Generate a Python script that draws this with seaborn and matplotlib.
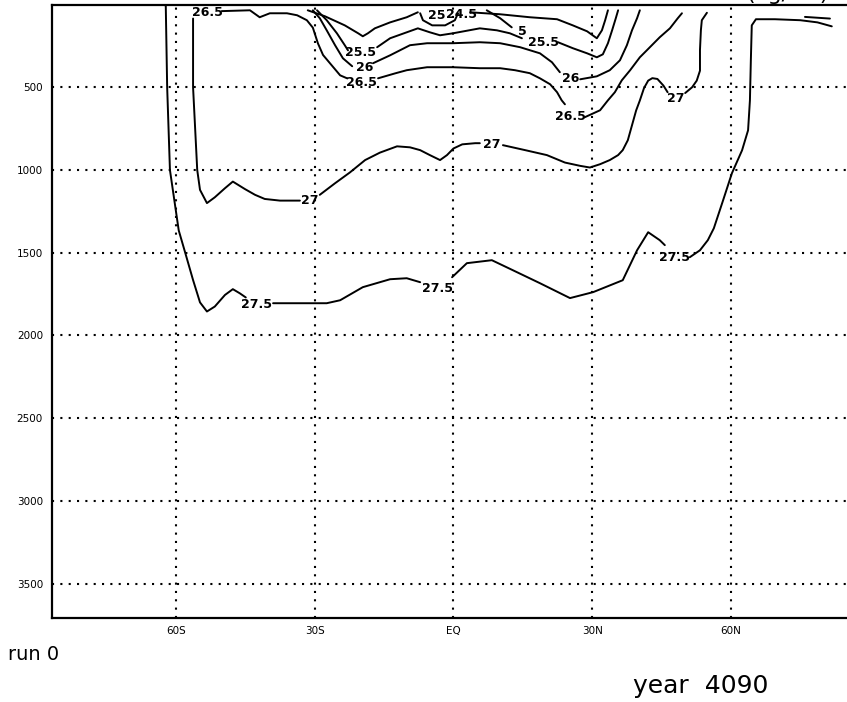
import matplotlib
matplotlib.use("Agg")
import matplotlib.pyplot as plt
import numpy as np
import pandas as pd
import seaborn as sns

# ---------------- data (latitude in degrees, depth in m) ----------------
# 27.5 contour
s275a_lat = [-62.4, -62.2, -61.9, -61.3, -59.4, -58.1, -56.3, -54.8, -53.3, -51.6, -49.4, -47.7, -46.2, -44.9]
s275a_dep = [0, 10, 500, 1000, 1365, 1490, 1665, 1800, 1855, 1825, 1755, 1720, 1745, 1770]
s275b_lat = [-39.0, -33.2, -27.4, -24.5, -19.6, -13.7, -10.1, -7.2]
s275b_dep = [1805, 1805, 1805, 1787, 1708, 1660, 1654, 1678]
s275c_lat = [-0.3, 2.9, 8.3, 12.8, 18.7, 25.2, 30.2, 36.6, 39.7, 42.1, 44.6, 45.7]
s275c_dep = [1648, 1563, 1545, 1605, 1684, 1774, 1738, 1666, 1485, 1376, 1424, 1454]
s275d_lat = [51.1, 53.3, 55.0, 56.3, 58.3, 60.2, 62.4, 63.7, 64.1, 64.3, 64.5, 65.4, 69.5, 75.0, 78.7, 81.8]
s275d_dep = [1527, 1485, 1424, 1352, 1183, 1020, 881, 760, 579, 337, 126, 89, 89, 95, 108, 132]

# 27.0 contour
s27a_lat = [-56.3, -56.3, -55.4, -54.8, -53.3, -51.6, -49.4, -47.7, -45.1, -42.9, -40.8, -37.5, -33.2]
s27a_dep = [85, 500, 1000, 1120, 1200, 1165, 1110, 1070, 1115, 1150, 1175, 1185, 1185]
s27b_lat = [-28.9, -25.6, -22.4, -19.1, -15.9, -12.2, -9.4, -7.2, -5.1, -2.9, -1.4, 0.0, 1.9, 4.7, 5.7]
s27b_dep = [1150, 1080, 1015, 940, 895, 857, 863, 880, 910, 940, 910, 870, 845, 838, 838]
s27c_lat = [10.7, 15.5, 20.2, 24.1, 27.4, 29.5, 31.7, 33.8, 35.6, 36.6, 37.7, 38.6, 39.5, 40.3, 41.2, 42.1, 43.0, 44.1, 45.4, 46.3]
s27c_dep = [850, 880, 910, 955, 975, 985, 965, 940, 910, 880, 820, 730, 640, 580, 505, 460, 445, 450, 490, 530]
s27d_lat = [50.1, 51.6, 52.6, 53.3, 53.3, 53.5, 53.7, 54.8]
s27d_dep = [535, 500, 460, 400, 275, 155, 95, 50]
s27e_lat = [76.0, 81.4]
s27e_dep = [75, 85]

# 26.5 contour
s265a_lat = [-50.1, -44.0, -43.4, -41.9, -39.7, -36.0, -33.8, -31.7, -30.4, -29.3, -28.2, -26.7, -24.5, -23.0]
s265a_dep = [40, 35, 47, 77, 53, 53, 65, 95, 140, 235, 305, 355, 428, 446]
s265b_lat = [-16.3, -12.6, -10.1, -5.7, -0.1, 5.7, 10.1, 13.3, 16.5, 18.7, 20.9, 22.4, 23.4, 24.1]
s265b_dep = [446, 416, 397, 379, 379, 385, 385, 397, 415, 446, 482, 530, 579, 603]
s265c_lat = [28.4, 31.7, 33.4, 34.9, 36.4, 38.2, 40.3, 41.8, 44.6, 46.8, 48.5, 49.4]
s265c_dep = [681, 639, 579, 530, 458, 397, 319, 277, 198, 144, 83, 53]

# 26.0 contour
s26a_lat = [-30.4, -28.9, -27.4, -25.6, -23.9, -21.9]
s26a_dep = [35, 83, 156, 246, 325, 373]
s26b_lat = [-17.4, -13.7, -9.4, -5.7, -0.1, 5.7, 10.1, 14.4, 18.7, 21.3, 23.0]
s26b_dep = [355, 307, 246, 234, 234, 228, 234, 258, 295, 349, 409]
s26c_lat = [27.4, 31.0, 33.8, 36.0, 37.5, 38.6, 39.7, 40.3]
s26c_dep = [452, 434, 397, 337, 246, 156, 83, 35]

# 25.5 contour
s255a_lat = [-29.5, -27.4, -25.2, -23.5, -22.8]
s255a_dep = [35, 95, 174, 246, 277]
s255b_lat = [-16.5, -13.7, -10.1, -7.7, -5.1, -2.9, -0.1, 5.7, 9.4, 12.2, 14.8]
s255b_dep = [258, 204, 168, 144, 168, 186, 174, 144, 156, 174, 204]
s255c_lat = [22.6, 25.8, 28.9, 31.0, 32.3, 33.4, 34.3, 35.1, 35.6]
s255c_dep = [228, 264, 295, 319, 301, 234, 156, 83, 35]

# 25.0 and shallower contours
s25a_lat = [-31.5, -27.8, -23.5, -20.6, -19.6, -18.5, -17.0, -13.7, -10.1, -7.7]
s25a_dep = [35, 71, 126, 174, 192, 174, 144, 108, 77, 47]
s25b_lat = [-7.2, -6.6, -4.6, -1.8, 0.3, 1.0]
s25b_dep = [53, 95, 126, 126, 95, 53]
s25c_lat = [7.2, 10.1, 12.6]
s25c_dep = [35, 83, 138]
s25d_lat = [3.6, 10.1, 16.5, 22.4, 25.8, 28.9, 31.0, 32.1, 32.8, 33.4]
s25d_dep = [47, 59, 77, 89, 126, 162, 204, 156, 95, 35]

# contour labels
label_text = ["26.5", "27.5", "27", "25.5", "26", "26.5", "25", "24.5",
              "27.5", "27", "5", "25.5", "26", "26.5", "27", "27.5"]
label_lat = [-53.3, -42.5, -31.0, -20.2, -19.1, -19.8, -3.6, 1.8,
             -3.4, 8.3, 14.8, 19.4, 25.4, 25.2, 48.1, 47.7]
label_dep = [47, 1811, 1183, 289, 379, 470, 65, 59,
             1714, 844, 162, 228, 446, 675, 567, 1527]

# axes ticks
lat_ticks = [-60, -30, 0, 30, 60]
lat_tick_labels = ["60S", "30S", "EQ", "30N", "60N"]
depth_ticks = [500, 1000, 1500, 2000, 2500, 3000, 3500]

# ---------------- build table ----------------
segments = [
    ("27.5", s275a_lat, s275a_dep), ("27.5", s275b_lat, s275b_dep),
    ("27.5", s275c_lat, s275c_dep), ("27.5", s275d_lat, s275d_dep),
    ("27", s27a_lat, s27a_dep), ("27", s27b_lat, s27b_dep),
    ("27", s27c_lat, s27c_dep), ("27", s27d_lat, s27d_dep), ("27", s27e_lat, s27e_dep),
    ("26.5", s265a_lat, s265a_dep), ("26.5", s265b_lat, s265b_dep), ("26.5", s265c_lat, s265c_dep),
    ("26", s26a_lat, s26a_dep), ("26", s26b_lat, s26b_dep), ("26", s26c_lat, s26c_dep),
    ("25.5", s255a_lat, s255a_dep), ("25.5", s255b_lat, s255b_dep), ("25.5", s255c_lat, s255c_dep),
    ("25", s25a_lat, s25a_dep), ("25", s25b_lat, s25b_dep),
    ("25", s25c_lat, s25c_dep), ("25", s25d_lat, s25d_dep),
]
rows = []
for i, (lvl, la, de) in enumerate(segments):
    for a, b in zip(la, de):
        rows.append({"seg": i, "level": lvl, "lat": a, "depth": b})
df = pd.DataFrame(rows)

# ---------------- plot ----------------
sns.set_theme(style="white")
plt.rcParams["font.family"] = ["DejaVu Sans"]
plt.rcParams["text.color"] = "black"

fig = plt.figure(figsize=(8.47, 7.02), dpi=100)
ax = fig.add_axes([52 / 847, 84 / 702, 808 / 847, 613.5 / 702])

sns.lineplot(data=df, x="lat", y="depth", units="seg", estimator=None, sort=False,
             color="black", linewidth=1.4, ax=ax, legend=False)

for t, la, de in zip(label_text, label_lat, label_dep):
    ax.text(la, de, t, ha="center", va="center", fontsize=9, fontweight="bold",
            color="black", clip_on=False)

ax.set_xlim(-86.8, 87.9)
ax.set_ylim(3707, 0)
ax.set_xticks(lat_ticks)
ax.set_xticklabels(lat_tick_labels)
ax.set_yticks(depth_ticks)
ax.set_yticklabels([str(d) for d in depth_ticks])
ax.set_xlabel("")
ax.set_ylabel("")
ax.grid(True, color="black", linestyle=(0, (1, 3)), linewidth=1.5)
ax.set_axisbelow(True)
ax.tick_params(axis="both", which="major", direction="out", length=2.5, width=1,
               color="black", labelsize=7.5, labelcolor="black", pad=3)
ax.tick_params(axis="y", pad=4)
for side, sp in ax.spines.items():
    sp.set_color("black")
    sp.set_linewidth(1.6)
ax.spines["right"].set_visible(False)

fig.text(8 / 847, 1 - 655 / 702, "run 0", fontsize=14, va="center", ha="left", color="black")
fig.text(633 / 847, 1 - 686 / 702, "year  4090", fontsize=18, va="center", ha="left", color="black")
fig.text(787 / 847, 1 + 6 / 702, "(kg/m³)", fontsize=16, va="center", ha="center", color="black")

fig.savefig("out.png", dpi=100)
